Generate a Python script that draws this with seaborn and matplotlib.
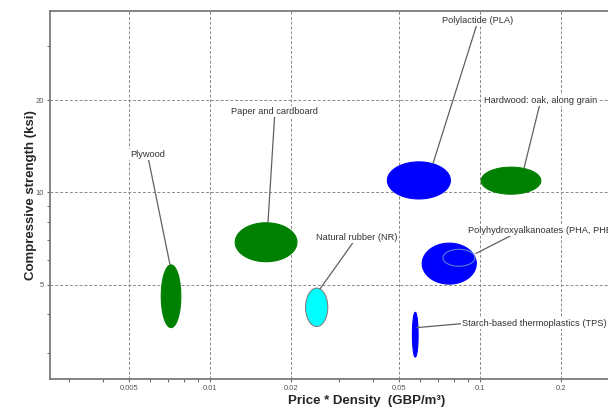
import numpy as np
import matplotlib
matplotlib.use('Agg')
import matplotlib.pyplot as plt
from matplotlib.ticker import FixedLocator, FixedFormatter, LogLocator, NullFormatter
import seaborn as sns

# material bubbles: ranges of price*density and compressive strength
materials = ['Plywood', 'Paper and cardboard', 'Natural rubber (NR)', 'Polylactide (PLA)',
             'Hardwood: oak, along grain', 'Polyhydroxyalkanoates (PHA, PHB)',
             'Starch-based thermoplastics (TPS)']
pd_lo = [0.0066, 0.0124, 0.0226, 0.0454, 0.101, 0.0611, 0.0562]
pd_hi = [0.0078, 0.021, 0.0273, 0.0777, 0.168, 0.0969, 0.059]
cs_lo = [3.62, 5.94, 3.65, 9.52, 9.87, 5.02, 2.90]
cs_hi = [5.80, 7.96, 4.87, 12.58, 12.09, 6.83, 4.06]
colors = ['#008000', '#008000', '#00ffff', '#0000ff', '#008000', '#0000ff', '#0000ff']

# PHB sub-record drawn inside PHA
phb_pd = [0.0729, 0.0958]
phb_cs = [5.74, 6.52]

# label placement (data coords) and leader end points
lab_x = [0.00587, 0.0174, 0.0349, 0.0983, 0.168, 0.0903, 0.0858]
lab_y = [13.3, 18.4, 7.12, 36.3, 20.0, 7.51, 3.73]
tip_x = [0.00711, 0.0164, 0.0256, 0.067, 0.1455, 0.0966, 0.0584]
tip_y = [5.81, 7.97, 4.85, 12.44, 11.98, 6.32, 3.62]
lab_ha = ['center', 'center', 'center', 'center', 'center', 'left', 'left']

xticks = [0.005, 0.01, 0.02, 0.05, 0.1, 0.2]
xticklabels = ['0.005', '0.01', '0.02', '0.05', '0.1', '0.2']
yticks = [5, 10, 20]
yticklabels = ['5', '10', '20']

sns.set_theme(style='ticks')
plt.rcParams['font.family'] = ['Liberation Sans', 'DejaVu Sans']

fig = plt.figure(figsize=(6.08, 4.08), dpi=100)
ax = fig.add_axes([50 / 608, 29 / 408, 634 / 608, 368 / 408])
ax.set_xscale('log')
ax.set_yscale('log')
ax.set_xlim(0.002556, 0.5696)
ax.set_ylim(2.46, 39.1)


def ellipse(x0, x1, y0, y1, n=200):
    t = np.linspace(0, 2 * np.pi, n)
    lx0, lx1, ly0, ly1 = np.log10([x0, x1, y0, y1])
    cx, cy = (lx0 + lx1) / 2, (ly0 + ly1) / 2
    rx, ry = (lx1 - lx0) / 2, (ly1 - ly0) / 2
    return 10 ** (cx + rx * np.cos(t)), 10 ** (cy + ry * np.sin(t))


for i in range(len(materials)):
    ex, ey = ellipse(pd_lo[i], pd_hi[i], cs_lo[i], cs_hi[i])
    ec = '#808080' if colors[i] == '#00ffff' else colors[i]
    ax.fill(ex, ey, facecolor=colors[i], edgecolor=ec, lw=0.8, zorder=3)

ex, ey = ellipse(phb_pd[0], phb_pd[1], phb_cs[0], phb_cs[1])
ax.plot(ex, ey, color='#5b7fd6', lw=0.8, zorder=4)

for i in range(len(materials)):
    relpos = (0.5, 0.5)
    if i == 5:
        relpos = (0.36, 0.5)
    if i == 6:
        relpos = (0.0, 0.5)
    ax.annotate(materials[i], xy=(tip_x[i], tip_y[i]), xytext=(lab_x[i], lab_y[i]),
                ha=lab_ha[i], va='center', fontsize=6.7, color='#333333', zorder=5,
                annotation_clip=False,
                bbox=dict(boxstyle='square,pad=0.1', fc='white', ec='none'),
                arrowprops=dict(arrowstyle='-', color='#606060', lw=0.9,
                                shrinkA=0, shrinkB=0, relpos=relpos))

ax.xaxis.set_major_locator(FixedLocator(xticks))
ax.xaxis.set_major_formatter(FixedFormatter(xticklabels))
ax.yaxis.set_major_locator(FixedLocator(yticks))
ax.yaxis.set_major_formatter(FixedFormatter(yticklabels))
ax.xaxis.set_minor_locator(LogLocator(subs=np.arange(2, 10)))
ax.yaxis.set_minor_locator(LogLocator(subs=np.arange(2, 10)))
ax.xaxis.set_minor_formatter(NullFormatter())
ax.yaxis.set_minor_formatter(NullFormatter())

ax.grid(True, which='major', ls=(0, (3, 2)), color='#8a8a8a', lw=0.7)
ax.tick_params(which='both', direction='out', length=2.5, width=0.8, color='#707070',
               labelsize=5.5, labelcolor='#555555', pad=2)

sns.despine(ax=ax, top=False, right=True)
for s in ['left', 'bottom', 'top']:
    ax.spines[s].set_color('#707070')
    ax.spines[s].set_linewidth(1.2)

ax.set_xlabel('Price * Density  (GBP/m³)', fontsize=9.5, fontweight='bold', labelpad=2)
ax.set_ylabel('Compressive strength (ksi)', fontsize=9.5, fontweight='bold', labelpad=-1)

fig.savefig('out.png', dpi=100)
